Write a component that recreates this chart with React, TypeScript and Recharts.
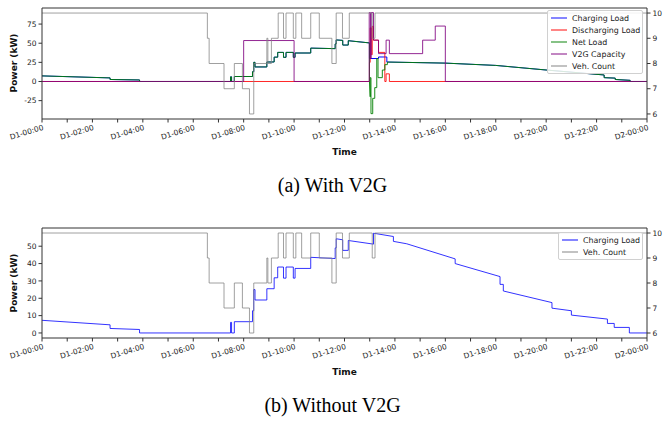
import React from 'react';
import { LineChart, Line, XAxis, YAxis, ReferenceLine } from 'recharts';

type P = [number, number];

const hourTicks = [0, 1, 2, 3, 4, 5, 6, 7, 8, 9, 10, 11, 12, 13, 14, 15, 16, 17, 18, 19, 20, 21, 22, 23, 24];
const timeLabels: Record<number, string> = {
  0: 'D1-00:00', 2: 'D1-02:00', 4: 'D1-04:00', 6: 'D1-06:00', 8: 'D1-08:00', 10: 'D1-10:00',
  12: 'D1-12:00', 14: 'D1-14:00', 16: 'D1-16:00', 18: 'D1-18:00', 20: 'D1-20:00', 22: 'D1-22:00', 24: 'D2-00:00',
};
const powerTicksA = [-25, 0, 25, 50, 75];
const powerTicksB = [0, 10, 20, 30, 40, 50];
const countTicks = [6, 7, 8, 9, 10];

// shared morning load profile (kW)
const earlyLoad: P[] = [
  [0, 7.3], [2.7, 4.7], [2.7, 2.6], [3.87, 2.0], [3.87, 0], [7.48, 0], [7.48, 6.1], [7.52, 6.1], [7.52, 0],
  [7.63, 0], [7.63, 6.5], [8.35, 6.5], [8.35, 12.8], [8.4, 12.8], [8.4, 25], [8.45, 25], [8.45, 19],
  [8.92, 19], [8.92, 25.5], [9.21, 25.5], [9.21, 31.8], [9.35, 31.8], [9.35, 38], [9.58, 38], [9.58, 31.6],
  [9.68, 31.6], [9.68, 38], [9.97, 38], [9.97, 31.6], [10.04, 31.6], [10.04, 37.2], [10.66, 37.2],
  [10.66, 43.6], [11.63, 42.9], [11.63, 49], [11.67, 49], [11.67, 54.3], [11.93, 53.7], [11.93, 47.6],
  [12.15, 47.6], [12.15, 53.3],
];

// (a) With V2G
const netTail: P[] = [
  [16, 24], [18, 21], [20, 15], [22.3, 8.5], [22.3, 5], [22.74, 4.4], [22.74, 2.6], [23.33, 1.5], [23.33, 0], [24, 0],
];
const netLoadV2G: P[] = [
  ...earlyLoad, [12.99, 50.4], [12.99, 0], [13.02, -20], [13.02, 5], [13.05, 5], [13.05, -42], [13.12, -42],
  [13.12, -22], [13.2, -22], [13.2, -8], [13.28, -8], [13.28, 30], [13.33, 30], [13.33, 5], [13.5, 5],
  [13.5, 15], [13.6, 15], [13.6, 22], [13.7, 22], [13.7, 25.4], ...netTail,
];
const chargingV2G: P[] = [
  ...earlyLoad, [12.99, 50.4], [12.99, 30], [13.35, 30], [13.35, 32], [13.68, 32], [13.68, 25.4], ...netTail,
];
const dischargingV2G: P[] = [
  [0, 0], [12.99, 0], [12.99, 25], [13.02, 25], [13.02, 70], [13.06, 70], [13.06, 35], [13.1, 35], [13.1, 72],
  [13.15, 72], [13.15, 54], [13.35, 54], [13.35, 38], [13.6, 38], [13.6, 0], [13.65, 0], [13.65, 10],
  [13.78, 10], [13.78, 0], [24, 0],
];
const v2gCapacity: P[] = [
  [0, 0], [8.0, 0], [8.0, 53.5], [10.0, 53.5], [10.0, 0], [12.98, 0], [12.98, 90], [13.03, 90], [13.03, 30],
  [13.06, 30], [13.06, 90], [13.15, 90], [13.15, 54], [13.35, 54], [13.35, 36.4], [13.65, 36.4], [13.65, 54],
  [13.78, 54], [13.78, 36.4], [15.1, 36.4], [15.1, 54], [15.6, 54], [15.6, 72.4], [16.0, 72.4], [16.0, 0], [24, 0],
];
const vehCount: P[] = [
  [0, 10], [6.56, 9], [6.63, 8], [7.22, 7], [7.63, 8], [7.95, 7], [8.23, 6], [8.4, 8], [8.92, 9], [8.96, 8],
  [9.1, 9], [9.37, 10], [9.58, 9], [9.68, 10], [9.97, 9], [10.07, 10], [10.3, 9], [10.66, 10], [11.0, 9],
  [11.5, 8], [11.67, 10], [11.92, 9], [12.19, 10], [13.1, 9], [13.21, 10], [24, 10],
];

// (b) Without V2G
const chargingNoV2G: P[] = [
  ...earlyLoad, [13.15, 51.2], [13.15, 57.5], [13.94, 55.6], [13.94, 52.8], [14.47, 51.4], [16.39, 42.7],
  [16.39, 40], [18.17, 32.5], [18.17, 28], [18.3, 28], [18.3, 24.2], [20.23, 17.5], [20.23, 14.3], [21.0, 12.8],
  [21.0, 10.3], [22.43, 8], [22.43, 5.5], [22.7, 5.5], [22.7, 3.2], [23.3, 3.2], [23.3, 0], [24, 0],
];

const toRows = (a: P[]) => a.map(([t, v]) => ({ t, v }));

const FONT = '"DejaVu Sans", sans-serif';
const C = {
  blue: '#0000ff', red: '#ff0000', green: '#008000', purple: '#800080', gray: '#808080', axis: '#333333', text: '#222222',
};

const XTick = (props: any) => {
  const { x, y, payload } = props;
  const label = timeLabels[payload.value];
  if (!label) return null;
  const yy = y + 5;
  return (
    <text x={x + 2} y={yy} transform={`rotate(-17 ${x + 2} ${yy})`} textAnchor="end" fontSize={7.5}
      fontFamily={FONT} fill={C.text}>{label}</text>
  );
};

const LegendBox = ({ left, top, width, items }: { left: number; top: number; width: number; items: { name: string; color: string }[] }) => (
  <div style={{
    position: 'absolute', left, top, width, boxSizing: 'border-box', border: '1px solid #d0d0d0', borderRadius: 2,
    background: 'rgba(255,255,255,0.85)', padding: '1px 0 1px 3px', fontFamily: FONT, fontSize: 7.9, color: C.text,
  }}>
    {items.map((it) => (
      <div key={it.name} style={{ display: 'flex', alignItems: 'center', height: 12 }}>
        <svg width={16} height={4} style={{ marginRight: 5 }}>
          <line x1={0} y1={2} x2={16} y2={2} stroke={it.color} strokeWidth={1.2} strokeOpacity={0.8} />
        </svg>
        <span style={{ whiteSpace: 'nowrap' }}>{it.name}</span>
      </div>
    ))}
  </div>
);

const commonAxes = (leftDomain: [number, number], leftTicks: number[]) => [
  <XAxis key="x" type="number" dataKey="t" domain={[0, 24]} ticks={hourTicks} interval={0} allowDataOverflow
    height={27} tickSize={3.5} tick={<XTick />} stroke={C.axis} />,
  <YAxis key="l" yAxisId="left" orientation="left" type="number" domain={leftDomain} ticks={leftTicks}
    allowDataOverflow width={42} tickSize={3.5} tickMargin={2} stroke={C.axis}
    tick={{ fontSize: 7.5, fontFamily: FONT, fill: C.text }} />,
  <YAxis key="r" yAxisId="right" orientation="right" type="number" domain={[5.8, 10.2]} ticks={countTicks}
    allowDataOverflow width={18} tickSize={3.5} tickMargin={2} stroke={C.axis}
    tick={{ fontSize: 7.5, fontFamily: FONT, fill: C.text }} />,
  <ReferenceLine key="top" yAxisId="left" y={leftDomain[1]} stroke={C.axis} strokeWidth={1} />,
];

const lineProps = { type: 'linear' as const, dataKey: 'v', dot: false, isAnimationActive: false, strokeWidth: 1 };

const AxisTitles = ({ top }: { top: number }) => (
  <>
    <div style={{
      position: 'absolute', left: 14, top: top + 63, transform: 'translate(-50%,-50%) rotate(-90deg)',
      fontFamily: FONT, fontWeight: 'bold', fontSize: 9, color: '#111', whiteSpace: 'nowrap',
    }}>Power (kW)</div>
    <div style={{
      position: 'absolute', left: 344.5, top: top + 152, transform: 'translate(-50%,-50%)',
      fontFamily: FONT, fontWeight: 'bold', fontSize: 9, color: '#111',
    }}>Time</div>
  </>
);

const Caption = ({ top, text }: { top: number; text: string }) => (
  <div style={{
    position: 'absolute', left: 0, width: 665, top, textAlign: 'center', lineHeight: '22px',
    fontFamily: '"Liberation Serif", serif', fontSize: 20, color: '#000',
  }}>{text}</div>
);

export default function App() {
  return (
    <div style={{ position: 'absolute', left: 0, top: 0, width: 665, height: 421, background: '#fff', overflow: 'hidden' }}>
      <div style={{ position: 'absolute', left: 0, top: 0 }}>
        <LineChart width={665} height={146} margin={{ top: 8, right: 0, bottom: 0, left: 0 }}>
          {commonAxes([-49, 96], powerTicksA)}
          <Line {...lineProps} yAxisId="left" data={toRows(chargingV2G)} stroke={C.blue} name="Charging Load" />
          <Line {...lineProps} yAxisId="left" data={toRows(dischargingV2G)} stroke={C.red} strokeOpacity={0.85} name="Discharging Load" />
          <Line {...lineProps} yAxisId="left" data={toRows(netLoadV2G)} stroke={C.green} strokeOpacity={0.9} name="Net Load" />
          <Line {...lineProps} yAxisId="left" data={toRows(v2gCapacity)} stroke={C.purple} strokeOpacity={0.85} name="V2G Capacity" />
          <Line {...lineProps} type="stepAfter" yAxisId="right" data={toRows(vehCount)} stroke={C.gray} strokeOpacity={0.75} name="Veh. Count" />
        </LineChart>
        <AxisTitles top={0} />
        <LegendBox left={547} top={10} width={96} items={[
          { name: 'Charging Load', color: C.blue },
          { name: 'Discharging Load', color: C.red },
          { name: 'Net Load', color: C.green },
          { name: 'V2G Capacity', color: C.purple },
          { name: 'Veh. Count', color: C.gray },
        ]} />
      </div>
      <Caption top={174} text="(a) With V2G" />

      <div style={{ position: 'absolute', left: 0, top: 220 }}>
        <LineChart width={665} height={145} margin={{ top: 8, right: 0, bottom: 0, left: 0 }}>
          {commonAxes([-2.9, 60.5], powerTicksB)}
          <Line {...lineProps} yAxisId="left" data={toRows(chargingNoV2G)} stroke={C.blue} strokeOpacity={0.8} name="Charging Load" />
          <Line {...lineProps} type="stepAfter" yAxisId="right" data={toRows(vehCount)} stroke={C.gray} strokeOpacity={0.75} name="Veh. Count" />
        </LineChart>
        <AxisTitles top={0} />
        <LegendBox left={558} top={12} width={85} items={[
          { name: 'Charging Load', color: C.blue },
          { name: 'Veh. Count', color: C.gray },
        ]} />
      </div>
      <Caption top={394} text="(b) Without V2G" />
    </div>
  );
}
